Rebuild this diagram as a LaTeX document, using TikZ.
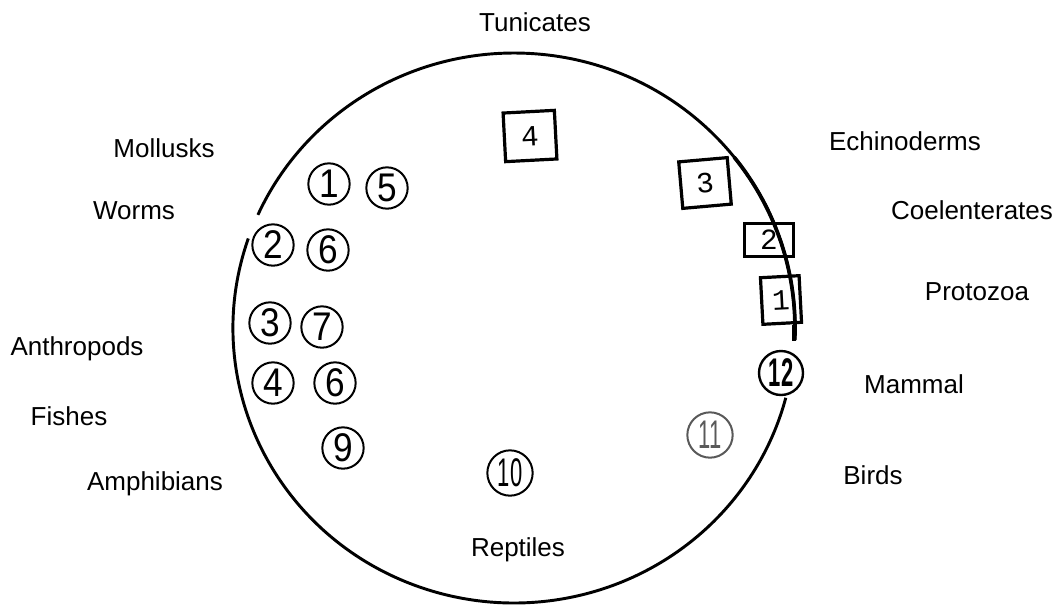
\documentclass[tikz,border=0pt]{standalone}
\usepackage{graphicx}
\usepackage{fontspec}
\setmainfont{Liberation Sans}
\newfontfamily\boxfont{Liberation Mono}
\usetikzlibrary{positioning}
\newcommand{\narrow}[2][0.88]{\scalebox{#1}[1]{#2}}

\begin{document}
\begin{tikzpicture}[x=0.75pt, y=0.75pt,
	taxon/.style={font=\fontsize{19.5}{22}\selectfont},
	num/.style={circle, draw, line width=1.5pt, minimum size=31pt, inner sep=0pt,
		font=\fontsize{30}{31}\selectfont},
	phylum/.style={draw, line width=2.4pt, inner sep=0pt,
		font=\boxfont\fontsize{22}{24}\selectfont}]
	\useasboundingbox (0,0) rectangle (1057,-604);
	\draw[line width=2.2pt] (514,-328) ++(-2.5:210.75pt and 206.25pt)
		arc[start angle=-2.5, end angle=155.7, x radius=210.75pt, y radius=206.25pt];
	\draw[line width=2.2pt] (514,-328) ++(161:210.75pt and 206.25pt)
		arc[start angle=161, end angle=345.3, x radius=210.75pt, y radius=206.25pt];
	\draw[line width=2.8pt] (514,-328) ++(38.4:210.75pt and 206.25pt)
		arc[start angle=38.4, end angle=-2.5, x radius=210.75pt, y radius=206.25pt];

	\node[taxon] (tunicates) at (535,-22) {Tunicates};
	\node[taxon] (mollusks) at (164,-148) {Mollusks};
	\node[taxon] (worms) at (134,-211) {Worms};
	\node[taxon] (anthropods) at (77,-349) {Anthropods};
	\node[taxon] (fishes) at (69,-416) {Fishes};
	\node[taxon] (amphibians) at (155,-484) {Amphibians};
	\node[taxon] (reptiles) at (518,-550) {Reptiles};
	\node[taxon] (birds) at (873,-475) {Birds};
	\node[taxon] (mammal) at (914,-384) {Mammal};
	\node[taxon] (protozoa) at (977,-292) {Protozoa};
	\node[taxon] (coelenterates) at (972,-210) {Coelenterates};
	\node[taxon] (echinoderms) at (905,-141) {Echinoderms};

	\node[num] (n1) at (329,-184) {\narrow{1}};
	\node[num] (n5) at (387,-188) {\narrow{5}};
	\node[num] (n2) at (273,-245) {\narrow{2}};
	\node[num] (n6a) at (328,-250) {\narrow{6}};
	\node[num] (n3) at (270,-323) {\narrow{3}};
	\node[num] (n7) at (322,-327) {\narrow{7}};
	\node[num] (n4) at (273,-383) {\narrow{4}};
	\node[num] (n6b) at (335,-383) {\narrow{6}};
	\node[num] (n9) at (343,-448) {\narrow{9}};
	\node[num, minimum size=34pt] (n10) at (510,-473) {\narrow[0.55]{10}};
	\node[num, minimum size=34pt, draw=black!65, text=black!65] (n11) at (710,-435) {\narrow[0.55]{11}};
	\node[num, minimum size=33pt, line width=1.8pt] (n12) at (781,-373) {\narrow[0.55]{\bfseries 12}};

	\node[phylum, minimum width=38.5pt, minimum height=36.5pt, rotate=3] (p4) at (530,-136) {4};
	\node[phylum, minimum width=36.5pt, minimum height=35pt, rotate=5] (p3) at (705,-183) {3};
	\node[phylum, minimum width=36.5pt, minimum height=24.5pt] (p2) at (769,-240) {2};
	\node[phylum, minimum width=29pt, minimum height=35pt, rotate=3] (p1) at (781,-300) {1};
	\coordinate (tail) at (794,-341);
	\draw[line width=2.8pt] (p1.south -| tail) -- (tail);
\end{tikzpicture}
\end{document}
